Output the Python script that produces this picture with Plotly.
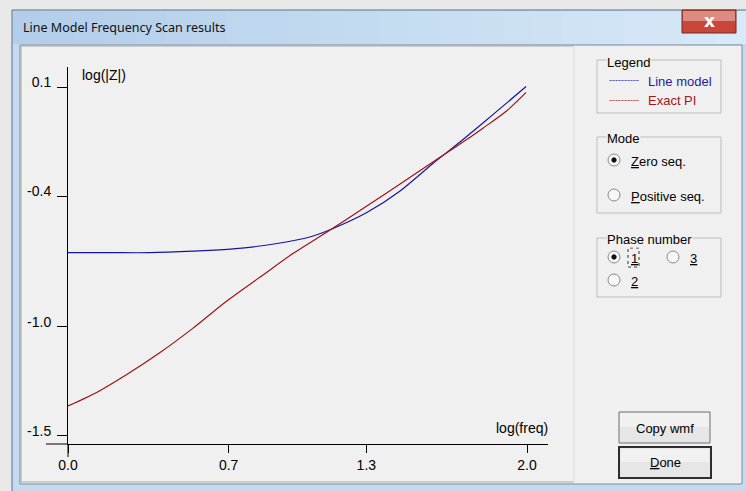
import plotly.graph_objects as go

# ---------------- data ----------------
line_model_freq = [0.0, 0.18, 0.357, 0.545, 0.719, 0.911, 1.054, 1.155, 1.302, 1.447, 1.590, 1.708, 1.808, 1.912, 1.996]
line_model_logz = [-0.660, -0.660, -0.660, -0.653, -0.643, -0.618, -0.588, -0.549, -0.476, -0.377, -0.251, -0.152, -0.065, 0.027, 0.102]

exact_pi_freq = [0.0, 0.125, 0.256, 0.401, 0.545, 0.692, 0.837, 0.980, 1.142, 1.302, 1.447, 1.590, 1.708, 1.808, 1.912, 1.996]
exact_pi_logz = [-1.363, -1.301, -1.219, -1.118, -1.006, -0.882, -0.772, -0.664, -0.556, -0.446, -0.345, -0.244, -0.162, -0.089, -0.009, 0.075]

x_tick_vals = [0.0, 0.7, 1.3, 2.0]
x_tick_text = ["0.0", "0.7", "1.3", "2.0"]
y_tick_vals = [0.1, -0.4, -1.0, -1.5]
y_tick_text = ["0.1", "-0.4", "-1.0", "-1.5"]

series_names = ["Line model", "Exact PI"]
series_colors = ["#16169c", "#9c1414"]

# ---------------- geometry helpers ----------------
W, H = 746, 491
L, R, T, B = 68, 548, 67, 444          # plot-area pixel box
X_PER_UNIT = 229.5
Y_PER_UNIT = 218.0
x_range = [0.0, (R - L) / X_PER_UNIT]
y_range = [0.1 - (B - 87) / Y_PER_UNIT, 0.1 + (87 - T) / Y_PER_UNIT]


def px(x):
    return (x - L) / (R - L)


def py(y):
    return (B - y) / (B - T)


UI_FONT = "Liberation Sans"
AX_FONT = "Liberation Sans Narrow, Arial Narrow, Liberation Sans"

shapes = []
annotations = []


def rect(x0, y0, x1, y1, fill=None, line=None, width=1, layer="below", dash=None):
    ln = dict(color=line if line else "rgba(0,0,0,0)", width=width if line else 0)
    if dash:
        ln["dash"] = dash
    shapes.append(dict(type="rect", xref="paper", yref="paper",
                       x0=px(x0), x1=px(x1), y0=py(y1), y1=py(y0),
                       fillcolor=fill if fill else "rgba(0,0,0,0)", line=ln, layer=layer))


def seg(x0, y0, x1, y1, color, width=1, dash=None, layer="above"):
    ln = dict(color=color, width=width)
    if dash:
        ln["dash"] = dash
    shapes.append(dict(type="line", xref="paper", yref="paper",
                       x0=px(x0), x1=px(x1), y0=py(y0), y1=py(y1), line=ln, layer=layer))


def circle(cx, cy, r, fill, line, width=1):
    shapes.append(dict(type="circle", xref="paper", yref="paper",
                       x0=px(cx - r), x1=px(cx + r), y0=py(cy + r), y1=py(cy - r),
                       fillcolor=fill, line=dict(color=line, width=width), layer="above"))


def text(x, y, s, size=13, color="black", xanchor="left", family=UI_FONT, bg=None):
    a = dict(xref="paper", yref="paper", x=px(x), y=py(y), text=s, showarrow=False,
             xanchor=xanchor, yanchor="middle", font=dict(family=family, size=size, color=color),
             borderpad=0)
    if bg:
        a["bgcolor"] = bg
    annotations.append(a)


# ---------------- window chrome ----------------
rect(12, 10, 760, 500, fill="#c4daf0", line="#5d6f85")
n = 24
c0 = (0xb3, 0xce, 0xea)
c1 = (0xd8, 0xe9, 0xf8)
for i in range(n):
    t = i / (n - 1)
    col = "#%02x%02x%02x" % tuple(int(c0[k] + (c1[k] - c0[k]) * t) for k in range(3))
    xa = 13 + (746 - 13) * i / n
    xb = 13 + (746 - 13) * (i + 1) / n + 1
    rect(xa, 11, xb, 44, fill=col)
rect(20, 45, 742, 484, fill="#f0f0f0", line="#7d8a98")
rect(21, 46, 574, 482, line="#a9a9a9")
seg(574, 46, 574, 482, "#fdfdfd", layer="below")

# close button
rect(682, 10, 736, 33, fill="#c8463a", line="#6e2a24")
rect(683, 11, 735, 21, fill="#dc8b80")
text(709, 21, "<b>x</b>", size=17, color="white", xanchor="center", family="DejaVu Sans")

text(22, 27, "Line Model Frequency Scan results", size=12.5, family="Noto Sans", color="#111111")

# ---------------- right-hand panel ----------------
rect(597, 60, 721, 113, line="#bdbdbd")
text(606, 62, "Legend", bg="#f0f0f0")
text(608, 80, "----------", size=9, color="#2a2ab4")
text(647, 81, series_names[0], color="#1c1ca4")
text(608, 100, "----------", size=9, color="#b01c1c")
text(647, 101, series_names[1], color="#a51616")

rect(597, 137, 721, 213, line="#bdbdbd")
text(606, 138, "Mode", bg="#f0f0f0")
circle(614, 160, 6, "#f7f7f7", "#8a8a8a")
circle(614, 160, 2.2, "#111111", "#111111")
text(630, 161, "<span style='text-decoration:underline'>Z</span>ero seq.")
circle(614, 195, 6, "#f7f7f7", "#8a8a8a")
text(630, 196, "<span style='text-decoration:underline'>P</span>ositive seq.")

rect(597, 238, 721, 297, line="#bdbdbd")
text(606, 239, "Phase number", bg="#f0f0f0")
circle(614, 257, 6, "#f7f7f7", "#8a8a8a")
circle(614, 257, 2.2, "#111111", "#111111")
rect(628, 248, 639, 267, line="#333333", dash="dot", layer="above")
text(630, 258, "<span style='text-decoration:underline'>1</span>")
circle(673, 257, 6, "#f7f7f7", "#8a8a8a")
text(689, 258, "<span style='text-decoration:underline'>3</span>")
circle(614, 280, 6, "#f7f7f7", "#8a8a8a")
text(630, 281, "<span style='text-decoration:underline'>2</span>")

rect(619, 412, 710, 443, fill="#e6e6e6", line="#707070")
rect(620, 413, 709, 427, fill="#f1f1f1")
text(664.5, 428, "Copy wmf", xanchor="center")
rect(619, 447, 711, 478, fill="#e6e6e6", line="#2e2e2e", width=2)
rect(621, 449, 709, 462, fill="#f1f1f1")
text(665, 463, "<span style='text-decoration:underline'>D</span>one", xanchor="center")

# ---------------- axes decorations ----------------
seg(46, 444, 68, 444, "black")
seg(68, 444, 68, 457, "black")

text(81, 75, "log(|Z|)", size=14, family=AX_FONT)
text(549, 428, "log(freq)", size=14, family=AX_FONT, xanchor="right")

# ---------------- figure ----------------
fig = go.Figure()
fig.add_trace(go.Scatter(x=line_model_freq, y=line_model_logz, mode="lines", name=series_names[0],
                         line=dict(color=series_colors[0], width=1.2, shape="spline", smoothing=0.8)))
fig.add_trace(go.Scatter(x=exact_pi_freq, y=exact_pi_logz, mode="lines", name=series_names[1],
                         line=dict(color=series_colors[1], width=1.2, shape="spline", smoothing=0.8)))

fig.update_layout(
    width=W, height=H,
    margin=dict(l=L, r=W - R, t=T, b=H - B, pad=0),
    paper_bgcolor="#e9e9e9",
    plot_bgcolor="rgba(0,0,0,0)",
    showlegend=False,
    shapes=shapes,
    annotations=annotations,
    font=dict(family=AX_FONT, size=14, color="black"),
)
fig.update_xaxes(range=x_range, tickvals=x_tick_vals, ticktext=x_tick_text,
                 showline=True, linecolor="black", linewidth=1,
                 ticks="outside", ticklen=8, tickcolor="black", tickwidth=1,
                 showgrid=False, zeroline=False, fixedrange=True,
                 tickfont=dict(family=AX_FONT, size=14, color="black"))
fig.update_yaxes(range=y_range, tickvals=y_tick_vals, ticktext=y_tick_text,
                 showline=True, linecolor="black", linewidth=1,
                 ticks="outside", ticklen=10, tickcolor="black", tickwidth=1,
                 showgrid=False, zeroline=False, fixedrange=True,
                 ticklabelshift=-5, ticklabelstandoff=3,
                 tickfont=dict(family=AX_FONT, size=14, color="black"))

fig.write_html("out.html", config={"displayModeBar": False},
               post_script="document.body.style.margin='0';document.body.style.overflow='hidden';")
